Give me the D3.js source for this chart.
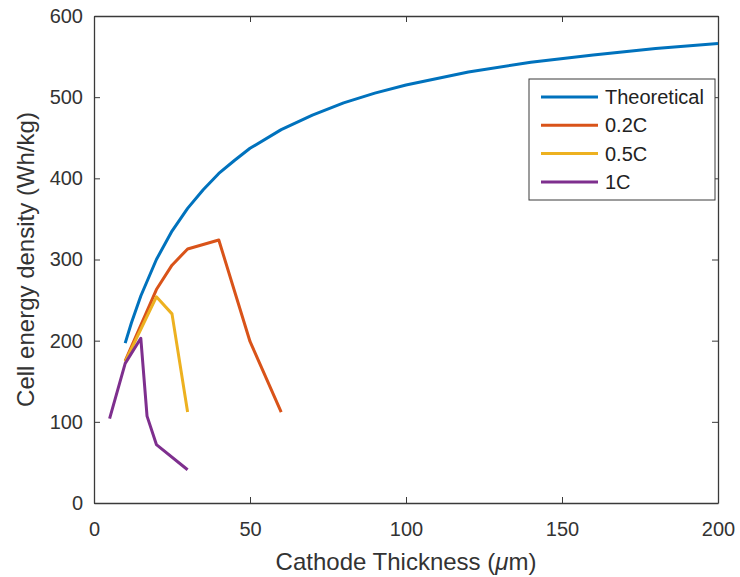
<!DOCTYPE html>
<html>
<head>
<meta charset="utf-8">
<script src="https://cdn.jsdelivr.net/npm/d3@7"></script>
<style>
  body { margin: 0; background: #fff; }
  svg { display: block; font-family: "Liberation Sans", Arial, sans-serif; }
</style>
</head>
<body>
<div class="chart"></div>
<script>
// values (thickness in um, energy in Wh/kg)
const theoThickness = [10, 12, 15, 20, 25, 30, 35, 40, 45, 50, 60, 70, 80, 90, 100, 120, 140, 160, 180, 200];
const theoEnergy = [197, 222, 255, 300, 335, 363, 386, 406, 422, 437, 460, 478, 493, 505, 515, 531, 543, 552, 560, 566];

const c02Thickness = [10, 20, 25, 30, 40, 50, 60];
const c02Energy = [175, 263, 293, 313, 324, 199, 112];

const c05Thickness = [10, 20, 25, 30];
const c05Energy = [174, 254, 233, 112];

const c1Thickness = [5, 10, 15, 17, 20, 30];
const c1Energy = [104, 172, 203, 107, 72, 41];

const seriesNames = ['Theoretical', '0.2C', '0.5C', '1C'];
const seriesColors = ['#0072BD', '#D95319', '#EDB120', '#7E2F8E'];

const xTicks = [0, 50, 100, 150, 200];
const yTicks = [0, 100, 200, 300, 400, 500, 600];

const zip = (xs, ys) => xs.map((x, i) => ({ x, y: ys[i] }));
const series = [
    zip(theoThickness, theoEnergy),
    zip(c02Thickness, c02Energy),
    zip(c05Thickness, c05Energy),
    zip(c1Thickness, c1Energy)
];

const width = 740, height = 577;
const margin = { top: 16, right: 22, bottom: 74, left: 94 };
const axisColor = '#3a3a3a';

const svg = d3.select('.chart')
    .append('svg')
        .attr('width', width)
        .attr('height', height);

const x = d3.scaleLinear()
    .domain([0, 200])
    .range([margin.left, width - margin.right]);

const y = d3.scaleLinear()
    .domain([0, 600])
    .range([height - margin.bottom, margin.top]);

//axes with inward ticks, box on
const styleAxis = (g) => {
    g.select('.domain').attr('stroke', axisColor).attr('stroke-width', 1.3);
    g.selectAll('.tick line').attr('stroke', axisColor).attr('stroke-width', 1);
    g.selectAll('.tick text')
        .attr('fill', '#333')
        .style('font-size', '20px');
};

svg.append('g')
    .attr('transform', `translate(0, ${y(0)})`)
    .call(d3.axisBottom(x).tickValues(xTicks).tickSizeInner(-6).tickSizeOuter(0).tickPadding(19))
    .call(styleAxis);

svg.append('g')
    .attr('transform', `translate(${x(0)}, 0)`)
    .call(d3.axisLeft(y).tickValues(yTicks).tickSizeInner(-6).tickSizeOuter(0).tickPadding(11))
    .call(styleAxis);

svg.append('g')
    .attr('transform', `translate(0, ${y(600)})`)
    .call(d3.axisTop(x).tickValues(xTicks).tickSizeInner(-6).tickSizeOuter(0).tickFormat(''))
    .call(styleAxis);

svg.append('g')
    .attr('transform', `translate(${x(200)}, 0)`)
    .call(d3.axisRight(y).tickValues(yTicks).tickSizeInner(-6).tickSizeOuter(0).tickFormat(''))
    .call(styleAxis);

//lines
const line = d3.line()
    .x((d) => x(d.x))
    .y((d) => y(d.y));

svg.append('g')
    .selectAll('path')
    .data(series)
    .enter()
    .append('path')
        .attr('d', line)
        .attr('fill', 'none')
        .attr('stroke', (d, i) => seriesColors[i])
        .attr('stroke-width', 3)
        .attr('stroke-linejoin', 'round');

//axis titles
const xTitle = svg.append('text')
    .attr('x', (x(0) + x(200)) / 2)
    .attr('y', 570)
    .attr('text-anchor', 'middle')
    .attr('fill', '#333')
    .style('font-size', '24px');

xTitle.append('tspan').text('Cathode Thickness (');
xTitle.append('tspan').style('font-style', 'italic').text('\u03bc');
xTitle.append('tspan').text('m)');

svg.append('text')
    .attr('transform', `translate(34, ${(y(0) + y(600)) / 2}) rotate(-90)`)
    .attr('text-anchor', 'middle')
    .attr('fill', '#333')
    .style('font-size', '24px')
    .text('Cell energy density (Wh/kg)');

//legend
const legend = svg.append('g')
    .attr('transform', 'translate(529, 79)');

legend.append('rect')
    .attr('width', 186)
    .attr('height', 121)
    .attr('fill', '#fff')
    .attr('stroke', axisColor)
    .attr('stroke-width', 1);

const items = legend.selectAll('g')
    .data(seriesNames)
    .enter()
    .append('g')
        .attr('transform', (d, i) => `translate(0, ${18 + i * 28.3})`);

items.append('line')
    .attr('x1', 12)
    .attr('x2', 69)
    .attr('stroke', (d, i) => seriesColors[i])
    .attr('stroke-width', 3);

items.append('text')
    .attr('x', 76)
    .attr('dy', '0.35em')
    .attr('fill', '#222')
    .style('font-size', '20px')
    .text((d) => d);
</script>
</body>
</html>
